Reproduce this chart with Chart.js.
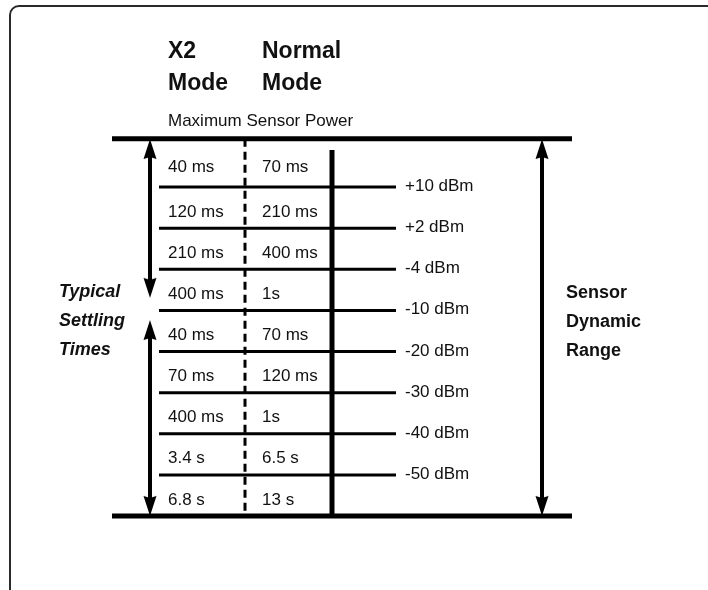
<!DOCTYPE html>
<html>
<head>
<meta charset="utf-8">
<script src="https://cdn.jsdelivr.net/npm/chart.js@4"></script>
<style>
  html, body { margin: 0; padding: 0; background: #fff; }
  canvas { display: block; }
</style>
</head>
<body>
<canvas id="myChart" width="708" height="590"></canvas>
<script>
// power levels, top to bottom (one row line each)
const levels = ['+10 dBm', '+2 dBm', '-4 dBm', '-10 dBm', '-20 dBm', '-30 dBm', '-40 dBm', '-50 dBm']
// settling times per row, X2 mode and normal mode
const x2Times = ['40 ms', '120 ms', '210 ms', '400 ms', '40 ms', '70 ms', '400 ms', '3.4 s', '6.8 s']
const normalTimes = ['70 ms', '210 ms', '400 ms', '1s', '70 ms', '120 ms', '1s', '6.5 s', '13 s']

// layout: x in page pixels, y in row units (level i sits at y = i + 1)
const rowPitch = 41.14
const firstLinePx = 187
const yMin = 1 - firstLinePx / rowPitch
const yMax = yMin + 590 / rowPitch
const topEdge = -0.17
const bottomEdge = levels.length + 1
const xBarLeft = 112, xBarRight = 572
const xRowStart = 159, xRowEnd = 396
const xDivider = 245, xThick = 332
const xLeftArrow = 150, xRightArrow = 542
const xCol1 = 168, xCol2 = 262, xLevel = 405
const tipInset = 0.15
const gapUpper = 3.55, gapLower = 4.38
const FONT = '"Liberation Sans", Arial, sans-serif'

// arrow head image, tip 6px above the centre so the shaft end is hidden
function arrowHead() {
  const c = document.createElement('canvas')
  c.width = 14
  c.height = 44
  const g = c.getContext('2d')
  g.fillStyle = '#000'
  g.beginPath()
  g.moveTo(7, 16)
  g.lineTo(13.5, 36)
  g.lineTo(7, 34)
  g.lineTo(0.5, 36)
  g.closePath()
  g.fill()
  return c
}
const head = arrowHead()

function seg(x1, y1, x2, y2, width, extra) {
  return Object.assign({
    data: [{x: x1, y: y1}, {x: x2, y: y2}],
    showLine: true,
    borderColor: '#000',
    backgroundColor: '#000',
    borderWidth: width,
    pointRadius: 0,
    borderCapStyle: 'butt'
  }, extra || {})
}

function arrow(x, yA, yB) {
  return seg(x, yA, x, yB, 4, {pointRadius: 3, pointStyle: head, pointRotation: [0, 180]})
}

const datasets = []
// row lines, one per power level
levels.forEach((lv, i) => datasets.push(seg(xRowStart, i + 1, xRowEnd, i + 1, 3)))
// column divider and power axis
datasets.push(seg(xDivider, topEdge, xDivider, bottomEdge, 3, {borderDash: [8, 5]}))
datasets.push(seg(xThick, 0.1, xThick, bottomEdge, 5))
// max power and min power bars
datasets.push(seg(xBarLeft, topEdge, xBarRight, topEdge, 5))
datasets.push(seg(xBarLeft, bottomEdge, xBarRight, bottomEdge, 5))
// arrows
datasets.push(arrow(xLeftArrow, topEdge + tipInset, gapUpper))
datasets.push(arrow(xLeftArrow, gapLower, bottomEdge - tipInset))
datasets.push(arrow(xRightArrow, topEdge + tipInset, bottomEdge - tipInset))

const textPlugin = {
  id: 'texts',
  beforeDraw(chart) {
    const ctx = chart.ctx
    ctx.save()
    ctx.fillStyle = '#fff'
    ctx.fillRect(0, 0, chart.width, chart.height)
    // frame corner
    ctx.strokeStyle = '#2a2a2a'
    ctx.lineWidth = 2
    ctx.beginPath()
    ctx.moveTo(10, 590)
    ctx.lineTo(10, 15)
    ctx.arcTo(10, 6, 19, 6, 9)
    ctx.lineTo(708, 6)
    ctx.stroke()
    ctx.restore()
  },
  afterDatasetsDraw(chart) {
    const {ctx, scales: {x, y}} = chart
    const px = v => x.getPixelForValue(v)
    const py = v => y.getPixelForValue(v)
    ctx.save()
    ctx.fillStyle = '#111'
    ctx.textBaseline = 'alphabetic'
    ctx.textAlign = 'left'

    // headers
    const top = py(topEdge)
    ctx.font = 'bold 23px ' + FONT
    ctx.fillText('X2', px(xCol1), top - 81)
    ctx.fillText('Mode', px(xCol1), top - 49)
    ctx.fillText('Normal', px(xCol2), top - 81)
    ctx.fillText('Mode', px(xCol2), top - 49)
    ctx.font = '17px ' + FONT
    ctx.fillText('Maximum Sensor Power', px(xCol1), top - 13)

    // settling times
    for (let i = 0; i < x2Times.length; i++) {
      const a = py(i === 0 ? topEdge : i)
      const b = py(i + 1)
      const base = (a + b) / 2 + 9
      ctx.fillText(x2Times[i], px(xCol1), base)
      ctx.fillText(normalTimes[i], px(xCol2), base)
    }

    // power levels
    levels.forEach((lv, i) => ctx.fillText(lv, px(xLevel), py(i + 1) + 4))

    // side labels
    const mid = py(4)
    ctx.font = 'italic bold 18px ' + FONT
    ;['Typical', 'Settling', 'Times'].forEach((t, k) => ctx.fillText(t, 59, mid - 13 + k * 29))
    ctx.font = 'bold 18px ' + FONT
    ;['Sensor', 'Dynamic', 'Range'].forEach((t, k) => ctx.fillText(t, 566, mid - 12 + k * 29))
    ctx.restore()
  }
}

new Chart('myChart', {
  type: 'scatter',
  data: {datasets: datasets},
  options: {
    responsive: false,
    animation: false,
    events: [],
    layout: {padding: 0, autoPadding: false},
    plugins: {legend: {display: false}, tooltip: {enabled: false}},
    scales: {
      x: {type: 'linear', display: false, min: 0, max: 708},
      y: {type: 'linear', display: false, min: yMin, max: yMax, reverse: true}
    }
  },
  plugins: [textPlugin]
})
</script>
</body>
</html>
